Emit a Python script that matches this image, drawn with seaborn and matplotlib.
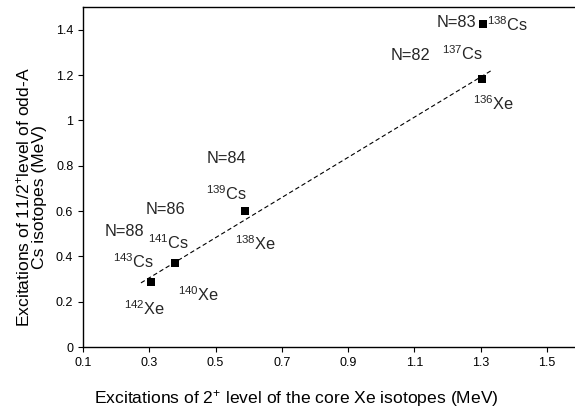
import numpy as np
import pandas as pd
import matplotlib
matplotlib.use("Agg")
import matplotlib.pyplot as plt
import seaborn as sns

# ---- data ----
xe_isotopes = ["136", "138", "140", "142"]
cs_isotopes = ["137", "139", "141", "143"]
neutron_numbers = ["N=82", "N=84", "N=86", "N=88"]
xe_2plus = [1.304, 0.589, 0.378, 0.305]        # MeV, core Xe 2+ energies
cs_11half = [1.184, 0.599, 0.370, 0.286]       # MeV, Cs 11/2 level energies
extra_label = "N=83"
extra_cs = "138"
extra_x = [1.307]
extra_y = [1.427]
fit_x_range = [0.275, 1.335]
x_ticks = [0.1, 0.3, 0.5, 0.7, 0.9, 1.1, 1.3, 1.5]
y_ticks = [0, 0.2, 0.4, 0.6, 0.8, 1.0, 1.2, 1.4]

sns.set_theme(style="ticks")
plt.rcParams["font.family"] = ["Liberation Sans", "DejaVu Sans"]
plt.rcParams["mathtext.default"] = "regular"

fig = plt.figure(figsize=(5.75, 4.13), dpi=100)
ax = fig.add_axes([0.1443, 0.1598, 0.8557, 0.8232])

df = pd.DataFrame({"x": xe_2plus + extra_x, "y": cs_11half + extra_y})
sns.scatterplot(data=df, x="x", y="y", marker="s", s=26, color="black",
                edgecolor="black", linewidth=0, ax=ax, zorder=3)

# linear fit through the four Xe-core points
slope, intercept = np.polyfit(xe_2plus, cs_11half, 1)
fx = np.array(fit_x_range)
fit_df = pd.DataFrame({"x": fx, "y": slope * fx + intercept})
sns.lineplot(data=fit_df, x="x", y="y", color="black", linewidth=0.8,
             linestyle=(0, (4, 2.5)), ax=ax)

fs = 11.8
# label offsets (pixels) relative to each marker
cs_off = [(-19, 25), (-18, 18), (-7, 20), (-17, 21)]
xe_off = [(12, -25), (11, -32), (23, -32), (-6, -26)]
n_off = [(-71, 23), (-19, 53), (-10, 54), (-26, 51)]
for i in range(4):
    px, py = xe_2plus[i], cs_11half[i]
    ax.annotate(r"$^{%s}$Cs" % cs_isotopes[i], (px, py), xytext=cs_off[i],
                textcoords="offset pixels", ha="center", va="center", fontsize=fs)
    ax.annotate(r"$^{%s}$Xe" % xe_isotopes[i], (px, py), xytext=xe_off[i],
                textcoords="offset pixels", ha="center", va="center", fontsize=fs)
    ax.annotate(neutron_numbers[i], (px, py), xytext=n_off[i],
                textcoords="offset pixels", ha="center", va="center", fontsize=fs)
ax.annotate(r"$^{%s}$Cs" % extra_cs, (extra_x[0], extra_y[0]), xytext=(25, -1),
            textcoords="offset pixels", ha="center", va="center", fontsize=fs)
ax.annotate(extra_label, (extra_x[0], extra_y[0]), xytext=(-26, 1),
            textcoords="offset pixels", ha="center", va="center", fontsize=fs)

ax.set_xlim(0.1, 1.585)
ax.set_ylim(0, 1.5)
ax.set_xticks(x_ticks)
ax.set_yticks(y_ticks)
ax.xaxis.set_major_formatter(matplotlib.ticker.FormatStrFormatter("%g"))
ax.yaxis.set_major_formatter(matplotlib.ticker.FormatStrFormatter("%g"))
ax.tick_params(axis="both", labelsize=9, length=3.5, width=0.8, direction="out",
               color="black", labelcolor="black")
for side in ["left", "bottom", "top"]:
    ax.spines[side].set_color("black")
    ax.spines[side].set_linewidth(1.0)
ax.spines["right"].set_visible(False)

ax.set_xlabel(r"Excitations of 2$^{+}$ level of the core Xe isotopes (MeV)",
              fontsize=12.6, color="black", va="center")
ax.set_ylabel("Excitations of 11/2$^{+}$level of odd-A\nCs isotopes (MeV)",
              fontsize=12.6, color="black", linespacing=1.0, va="center")
ax.xaxis.set_label_coords(0.433, -0.152)
ax.yaxis.set_label_coords(-0.106, 0.44)

fig.savefig("out.png", dpi=100)
